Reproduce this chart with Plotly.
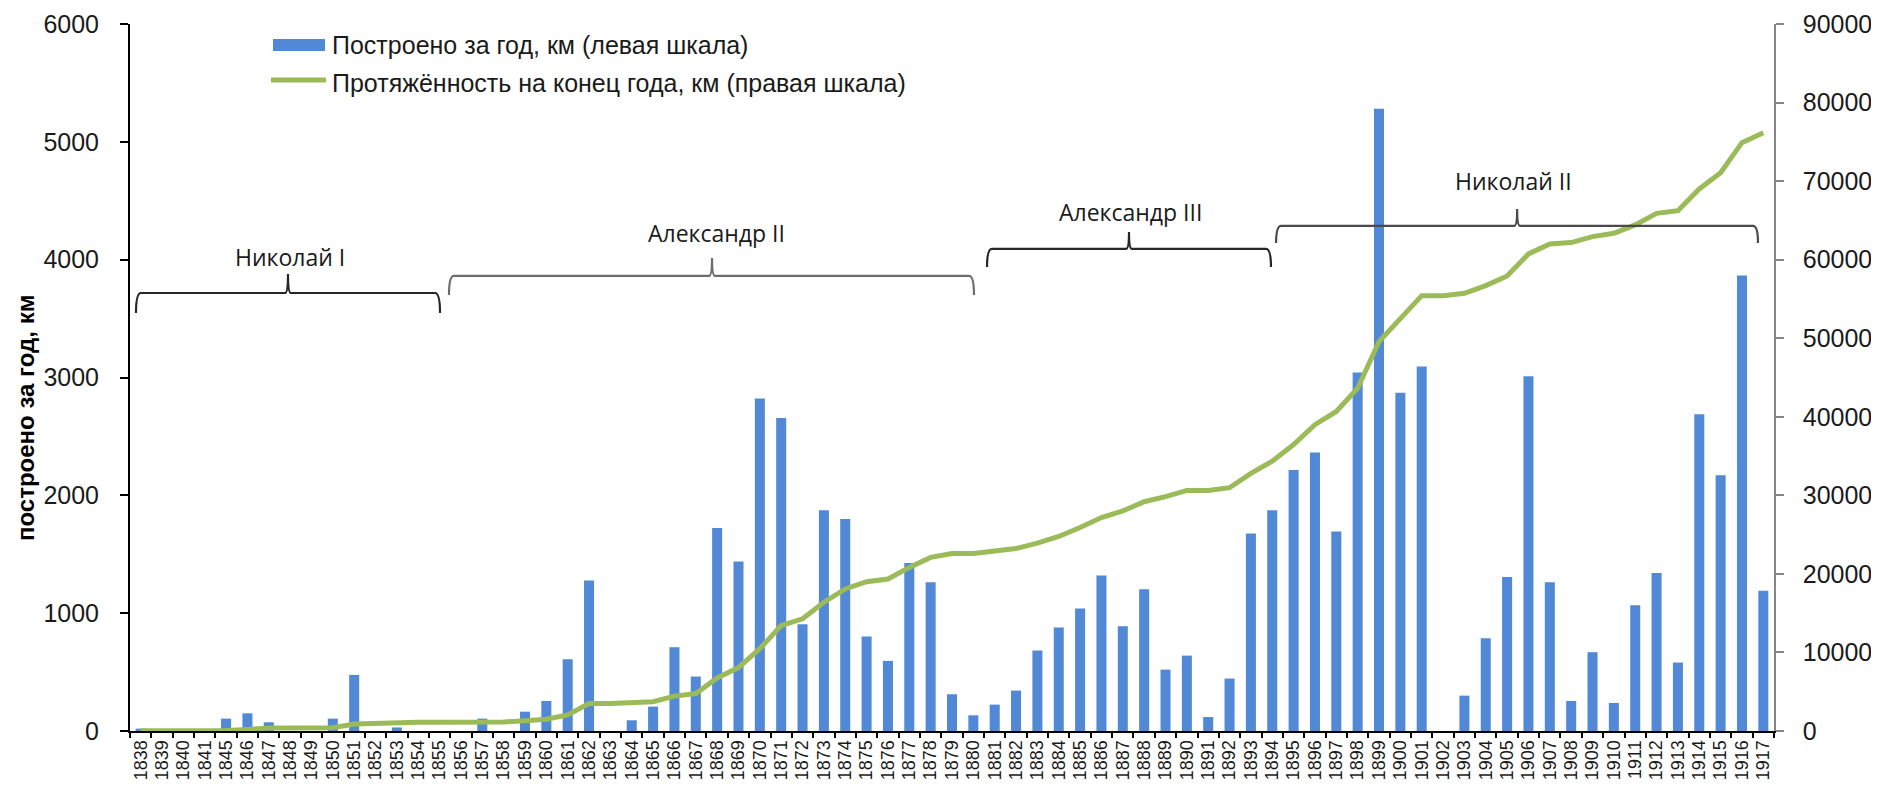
import plotly.graph_objects as go

# ---------------- data ----------------
years = ["1838", "1839", "1840", "1841"] + [str(y) for y in range(1845, 1918)]

built_km = [
    20, 0, 0, 0,                     # 1838-1841
    105, 150, 74, 0, 0, 105,         # 1845-1850
    476, 0, 30, 0, 0, 0, 105, 0,     # 1851-1858
    164, 255, 609, 1278, 0, 91,      # 1859-1864
    207, 711, 462, 1722, 1439,       # 1865-1869
    2822, 2657, 907, 1873, 1799,     # 1870-1874
    802, 595, 1425, 1263, 312,       # 1875-1879
    133, 224, 343, 683, 878,         # 1880-1884
    1040, 1320, 890, 1204, 521,      # 1885-1889
    640, 119, 445, 1677, 1873,       # 1890-1894
    2215, 2363, 1694, 3042, 5280,    # 1895-1899
    2870, 3093, 0, 300, 788,         # 1900-1904
    1306, 3011, 1263, 255, 669,      # 1905-1909
    238, 1068, 1340, 581, 2688,      # 1910-1914
    2170, 3866, 1190,                # 1915-1917
]

length_km = [
    27, 27, 27, 27,                              # 1838-1841
    60, 200, 380, 380, 380, 420,                 # 1845-1850
    900, 1000, 1050, 1100, 1100, 1100, 1150, 1150,  # 1851-1858
    1300, 1500, 2050, 3500, 3500, 3560,          # 1859-1864
    3720, 4440, 4770, 6760, 8070,                # 1865-1869
    10480, 13430, 14280, 16390, 18080,           # 1870-1874
    19010, 19350, 20830, 22100, 22600,           # 1875-1879
    22600, 22940, 23240, 23910, 24760,           # 1880-1884
    25900, 27170, 28010, 29190, 29830,           # 1885-1889
    30630, 30630, 30970, 32800, 34350,           # 1890-1894
    36460, 39000, 40680, 43640, 49570,           # 1895-1899
    52540, 55420, 55420, 55720, 56700,           # 1900-1904
    57920, 60730, 62000, 62170, 62930,           # 1905-1909
    63360, 64420, 65900, 66240, 69000,           # 1910-1914
    71080, 74900, 76170,                         # 1915-1917
]

reign_names = ["Николай I", "Александр II", "Александр III", "Николай II"]

bar_name = "Построено за год, км (левая шкала)"
line_name = "Протяжённость на конец года, км (правая шкала)"
y_title = "построено за год, км"

left_ticks = [0, 1000, 2000, 3000, 4000, 5000, 6000]
right_ticks = [0, 10000, 20000, 30000, 40000, 50000, 60000, 70000, 80000, 90000]

# ---------------- style / layout constants ----------------
PAGE_W, PAGE_H = 1879, 785
OFF = 8                      # default body margin of the html page
W, H = PAGE_W - OFF, PAGE_H - OFF
# target plot area in page pixels
P_LEFT, P_RIGHT, P_TOP, P_BOTTOM = 130, 1774, 24, 731
ML = P_LEFT - OFF
MT = P_TOP - OFF
MR = W - (P_RIGHT - OFF)
MB = H - (P_BOTTOM - OFF)
PW = P_RIGHT - P_LEFT
PH = P_BOTTOM - P_TOP
N = len(years)

BAR_COLOR = "#5189D6"
LINE_COLOR = "#9BBB59"
TXT = "#1a1a1a"
ARIAL = "Liberation Sans, Arial, sans-serif"
CAL = "Open Sans, Lato, sans-serif"


def px_x(px):
    return (px - P_LEFT) / PW


def px_y(py):
    return (P_BOTTOM - py) / PH


def idx_x(i):
    return (i + 0.5) / N


# brace geometry: (x_start, x_tip, x_end) in category-index units,
# (y_line, y_end, y_tip, y_label) in left-axis units, label x, colour
braces = [
    (-0.22, 6.9, 14.02, 3717, 3548, 3879, 4023, 6.99, "#262626"),
    (14.44, 26.76, 39.03, 3862, 3700, 4014, 4226, 26.95, "#6e6e6e"),
    (39.64, 46.29, 52.94, 4091, 3938, 4235, 4405, 46.34, "#262626"),
    (53.18, 64.47, 75.75, 4286, 4142, 4430, 4668, 64.32, "#4a4a4a"),
]

fig = go.Figure()

fig.add_trace(go.Bar(
    x=years, y=built_km, name=bar_name,
    marker=dict(color=BAR_COLOR, line=dict(width=0)),
    yaxis="y", xaxis="x", showlegend=False,
))

fig.add_trace(go.Scatter(
    x=years, y=length_km, name=line_name, mode="lines",
    line=dict(color=LINE_COLOR, width=5),
    yaxis="y2", xaxis="x", showlegend=False,
))

shapes = []
annotations = []

# braces
dx_end = 5 / PW
dx_tip = 3 / PW
for (i0, it, i1, yl, ye, yt, ylab, ilab, col), name in zip(braces, reign_names):
    x0, xt, x1 = idx_x(i0), idx_x(it), idx_x(i1)
    path = (f"M {x0},{ye} Q {x0},{yl} {x0 + dx_end},{yl} "
            f"L {xt - dx_tip},{yl} Q {xt},{yl} {xt},{yt} "
            f"Q {xt},{yl} {xt + dx_tip},{yl} "
            f"L {x1 - dx_end},{yl} Q {x1},{yl} {x1},{ye}")
    shapes.append(dict(type="path", path=path, xref="paper", yref="y",
                       line=dict(color=col, width=2.2)))
    annotations.append(dict(
        text=name, x=idx_x(ilab), y=ylab, xref="paper", yref="y",
        showarrow=False, xanchor="center", yanchor="middle",
        font=dict(family=CAL, size=23, color=TXT),
    ))

# custom legend
shapes.append(dict(type="rect", xref="paper", yref="paper",
                   x0=px_x(273), x1=px_x(325), y0=px_y(51), y1=px_y(39),
                   fillcolor=BAR_COLOR, line=dict(width=0)))
shapes.append(dict(type="line", xref="paper", yref="paper",
                   x0=px_x(271), x1=px_x(326), y0=px_y(80), y1=px_y(80),
                   line=dict(color=LINE_COLOR, width=5)))
annotations.append(dict(text=bar_name, x=px_x(330), y=px_y(45),
                        xref="paper", yref="paper", showarrow=False,
                        xanchor="left", yanchor="middle",
                        font=dict(family=ARIAL, size=25, color=TXT)))
annotations.append(dict(text=line_name, x=px_x(330), y=px_y(83),
                        xref="paper", yref="paper", showarrow=False,
                        xanchor="left", yanchor="middle",
                        font=dict(family=ARIAL, size=25, color=TXT)))

# y-axis title
annotations.append(dict(text=f"<b>{y_title}</b>", x=px_x(26), y=px_y(418),
                        xref="paper", yref="paper", showarrow=False,
                        textangle=-90, xanchor="center", yanchor="middle",
                        font=dict(family=ARIAL, size=24, color="#000000")))

fig.update_layout(
    width=W, height=H,
    margin=dict(l=ML, r=MR, t=MT, b=MB, pad=0, autoexpand=False),
    paper_bgcolor="white", plot_bgcolor="white",
    bargap=0.53,
    showlegend=False,
    shapes=shapes,
    annotations=annotations,
    xaxis=dict(
        type="category", categoryorder="array", categoryarray=years,
        tickmode="array", tickvals=years, ticktext=years,
        range=[-0.5, N - 0.5], tickson="boundaries",
        ticks="outside", ticklen=5, tickwidth=1.5, tickcolor="#000000",
        showline=True, linecolor="#000000", linewidth=2,
        tickangle=-90, tickfont=dict(family=ARIAL, size=18, color=TXT),
        showgrid=False, zeroline=False, automargin=False,
    ),
    xaxis2=dict(
        overlaying="x", anchor="y", side="bottom", type="linear",
        range=[-0.5, N - 0.5], tick0=-0.5, dtick=1,
        ticks="inside", ticklen=5, tickwidth=1.5, tickcolor="#000000",
        showticklabels=False, showline=False, showgrid=False, zeroline=False,
    ),
    yaxis=dict(
        range=[0, 6000], tickvals=left_ticks,
        ticks="outside", ticklen=8, tickwidth=1.5, tickcolor="#000000",
        showline=True, linecolor="#000000", linewidth=2,
        tickfont=dict(family=ARIAL, size=25, color=TXT),
        ticklabelstandoff=16,
        showgrid=False, zeroline=False, automargin=False,
    ),
    yaxis3=dict(
        overlaying="y", anchor="x", side="left",
        range=[0, 6000], tickvals=left_ticks,
        ticks="inside", ticklen=8, tickwidth=1.5, tickcolor="#000000",
        showticklabels=False, showline=False, showgrid=False, zeroline=False,
    ),
    yaxis2=dict(
        overlaying="y", anchor="x", side="right",
        range=[0, 90000], tickvals=right_ticks, tickformat="d",
        ticks="outside", ticklen=8, tickwidth=1.5, tickcolor="#868686",
        showline=True, linecolor="#868686", linewidth=1.5,
        tickfont=dict(family=ARIAL, size=25, color=TXT),
        ticklabelstandoff=14,
        showgrid=False, zeroline=False, automargin=False,
    ),
)

fig.write_html("out.html")
